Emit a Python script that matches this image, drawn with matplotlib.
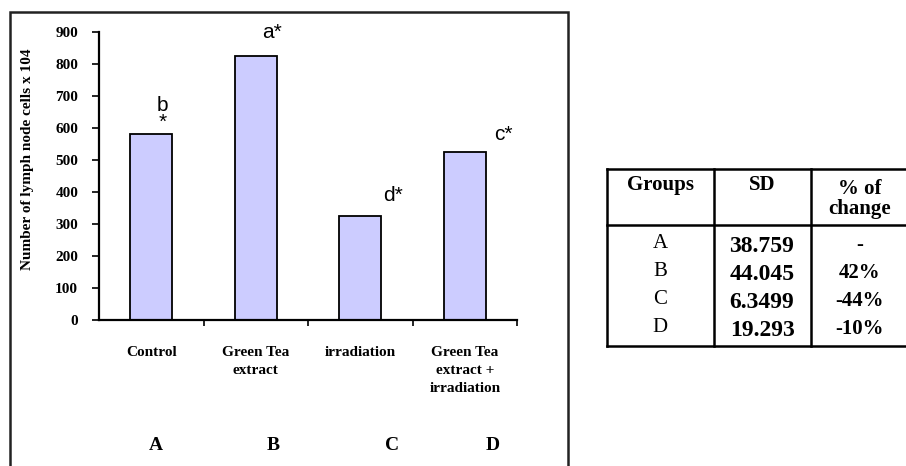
import matplotlib
matplotlib.use("Agg")
import matplotlib.pyplot as plt
from matplotlib.patches import Rectangle
from matplotlib.lines import Line2D

# data
groups = ["Control", "Green Tea\nextract", "irradiation", "Green Tea\nextract +\nirradiation"]
cells = [580, 825, 325, 525]
marks = ["b\n*", "a*", "d*", "c*"]
letters = ["A", "B", "C", "D"]
sd = ["38.759", "44.045", "6.3499", "19.293"]
change = ["-", "42%", "-44%", "-10%"]

W, H = 906, 466
def fx(x):
    return x / W
def fy(y):
    return 1 - y / H

fig = plt.figure(figsize=(9.06, 4.66), dpi=100)
serif = "Liberation Serif"

ax = fig.add_axes([fx(99), fy(320), (517 - 99) / W, (320 - 32) / H])
x = range(len(cells))
ax.bar(x, cells, width=0.4, color="#ccccff", edgecolor="black", linewidth=1.3)
ax.set_xlim(-0.5, 3.5)
ax.set_ylim(0, 900)
ax.set_yticks(range(0, 901, 100))
ax.set_xticks([0.5, 1.5, 2.5, 3.5], minor=True)
ax.set_xticks(list(x))
ax.set_xticklabels(groups, fontfamily=serif, fontweight="bold", fontsize=11,
                   linespacing=1.5, va="top")
ax.tick_params(axis="x", which="major", length=0, pad=19)
ax.tick_params(axis="x", which="minor", length=4, width=1.2, direction="out")
ax.tick_params(axis="y", length=5, width=1.2, pad=10, labelsize=11)
for lab in ax.get_yticklabels():
    lab.set_fontfamily(serif)
    lab.set_fontweight("bold")
for s in ["top", "right"]:
    ax.spines[s].set_visible(False)
for s in ["left", "bottom"]:
    ax.spines[s].set_linewidth(1.6)

# significance marks above bars
dx = [0.11, 0.16, 0.31, 0.37]
dy = [64, 72, 65, 56]
for i in x:
    ax.text(i + dx[i], cells[i] + dy[i], marks[i], ha="center", va="center",
            fontsize=15, fontfamily="Liberation Sans", linespacing=0.85)

fig.text(fx(28), fy(159), "Number of lymph node cells x 104", rotation=90,
         ha="center", va="center", fontfamily=serif, fontweight="bold", fontsize=11)

# group letters under chart
lx = [156, 273, 392, 493]
for i, t in enumerate(letters):
    fig.text(fx(lx[i]), fy(445), t, ha="center", va="center",
             fontfamily=serif, fontweight="bold", fontsize=14)

# frame around the chart
fig.add_artist(Rectangle((fx(10), fy(480)), (568 - 10) / W, (480 - 12) / H,
                         transform=fig.transFigure, fill=False,
                         edgecolor="#222222", linewidth=1.8, clip_on=False))

# table
def hline(y, x0, x1):
    fig.add_artist(Line2D([fx(x0), fx(x1)], [fy(y), fy(y)], color="black", linewidth=1.8))
def vline(xp, y0, y1):
    fig.add_artist(Line2D([fx(xp), fx(xp)], [fy(y0), fy(y1)], color="black", linewidth=1.8))

hline(169, 607, 910)
hline(225, 607, 910)
hline(346, 607, 910)
vline(607, 169, 346)
vline(714, 169, 346)
vline(811, 169, 346)

fig.text(fx(660), fy(185), "Groups", ha="center", va="center",
         fontfamily=serif, fontweight="bold", fontsize=15)
fig.text(fx(762), fy(185), "SD", ha="center", va="center",
         fontfamily=serif, fontweight="bold", fontsize=15)
fig.text(fx(860), fy(199), "% of\nchange", ha="center", va="center",
         fontfamily=serif, fontweight="bold", fontsize=15, linespacing=0.95)

for i in range(len(letters)):
    yy = 243 + 28 * i
    fig.text(fx(660), fy(yy), letters[i], ha="center", va="center",
             fontfamily=serif, fontsize=15)
    fig.text(fx(762), fy(yy + 3), sd[i], ha="center", va="center",
             fontfamily=serif, fontweight="bold", fontsize=17)
    fig.text(fx(860), fy(yy + 2), change[i], ha="center", va="center",
             fontfamily=serif, fontweight="bold", fontsize=15)

fig.savefig("out.png", dpi=100)
